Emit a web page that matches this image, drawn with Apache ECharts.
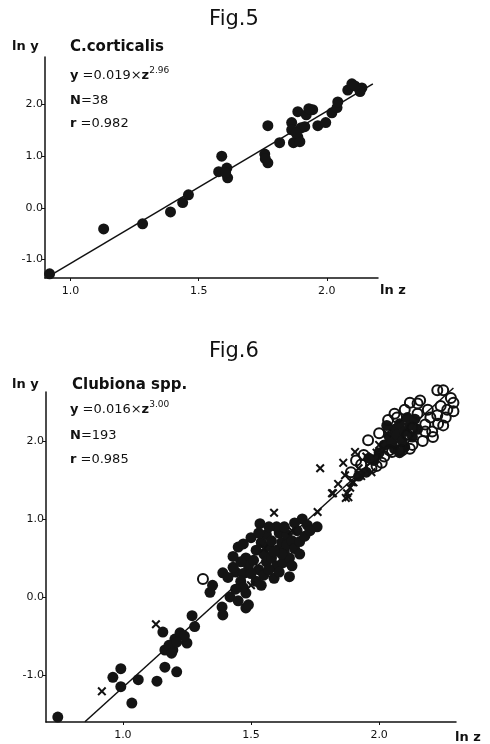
<!DOCTYPE html>
<html>
<head>
<meta charset="utf-8">
<script src="https://cdn.jsdelivr.net/npm/echarts@6/dist/echarts.min.js"></script>
<style>
html,body{margin:0;padding:0;background:#fff;}
#chart{width:490px;height:744px;}
</style>
</head>
<body>
<div id="chart"></div>
<script>
// ---------- Fig.5 : C.corticalis ----------
var fig5Points = [
  [0.918,-1.28],[1.129,-0.41],[1.281,-0.31],[1.39,-0.08],[1.4375,0.10],[1.46,0.25],
  [1.59,1.00],[1.578,0.70],[1.61,0.77],[1.613,0.58],[1.605,0.68],
  [1.77,1.59],[1.758,1.04],[1.77,0.87],[1.816,1.26],[1.863,1.65],[1.863,1.51],
  [1.87,1.26],[1.887,1.86],[1.887,1.37],[1.90,1.55],[1.914,1.57],[1.895,1.28],
  [1.92,1.80],[1.945,1.90],[1.965,1.59],[1.996,1.65],[2.02,1.84],[2.04,1.94],
  [2.043,2.05],[2.082,2.28],[2.098,2.40],[2.137,2.32],[2.13,2.25],[2.11,2.36],
  [1.88,1.45],[1.93,1.92],[1.76,0.95]
];
var fig5Line = [[0.9375,-1.26],[2.18,2.40]];
var fig5XTicks = [1.0, 1.5, 2.0];
var fig5YTicks = [-1.0, 0.0, 1.0, 2.0];

// ---------- Fig.6 : Clubiona spp. ----------
var fig6Filled = [
  [0.746,-1.54],[0.961,-1.03],[0.992,-0.92],[0.992,-1.15],[1.035,-1.36],[1.06,-1.06],
  [1.133,-1.08],[1.156,-0.45],[1.164,-0.68],[1.164,-0.90],[1.195,-0.68],[1.21,-0.96],
  [1.203,-0.54],[1.223,-0.46],[1.25,-0.59],[1.18,-0.62],[1.27,-0.24],
  [1.34,0.06],[1.35,0.15],[1.39,0.31],[1.387,-0.13],[1.39,-0.23],[1.418,0.0],
  [1.44,0.32],[1.45,0.64],[1.48,0.50],[1.48,0.05],[1.48,-0.14],[1.47,0.30],
  [1.46,0.20],[1.43,0.38],[1.47,0.12],[1.49,0.40],[1.50,0.76],[1.45,-0.05],
  [1.49,-0.10],[1.46,0.45],
  [1.51,0.47],[1.535,0.94],[1.52,0.60],[1.53,0.35],[1.54,0.70],[1.55,0.55],
  [1.56,0.45],[1.56,0.80],[1.57,0.65],[1.58,0.50],[1.58,0.72],[1.59,0.24],
  [1.60,0.40],[1.60,0.60],[1.61,0.82],[1.62,0.70],[1.625,0.44],[1.63,0.58],
  [1.64,0.67],[1.64,0.80],[1.65,0.26],[1.65,0.50],[1.66,0.72],[1.67,0.62],
  [1.68,0.85],[1.69,0.71],[1.70,1.00],[1.72,0.92],[1.758,0.90],[1.55,0.28],
  [1.52,0.20],[1.57,0.35],[1.62,0.55],[1.60,0.90],
  [1.53,0.82],[1.57,0.90],[1.59,0.58],[1.61,0.32],[1.63,0.90],[1.66,0.40],
  [1.67,0.95],[1.69,0.55],[1.71,0.78],[1.73,0.85],[1.41,0.25],[1.44,0.10],
  [1.50,0.30],[1.54,0.15],[1.28,-0.38],[1.24,-0.50],[1.21,-0.58],[1.19,-0.72],
  [1.43,0.52],[1.47,0.68],
  [2.02,1.95],[2.04,2.05],[2.05,1.98],[2.06,2.15],[2.07,2.08],[2.08,2.22],
  [2.09,2.00],[2.10,2.12],[2.11,2.30],[2.12,2.20],[2.10,1.92],[2.13,2.05],
  [2.08,1.85],[2.06,1.90],[2.14,2.28],[2.03,2.20],[2.00,1.85],[1.98,1.75],
  [1.95,1.60],[2.15,2.15],[1.92,1.55],[1.96,1.78]
];
var fig6Open = [
  [1.3125,0.23],
  [1.957,2.01],[2.035,2.27],[2.12,2.49],[2.16,2.52],[2.227,2.65],[2.25,2.65],
  [2.29,2.49],[2.266,2.40],[2.227,2.33],[2.18,2.21],[2.207,2.12],[2.13,2.17],
  [2.11,2.08],[2.08,1.88],[2.05,1.86],[2.13,1.95],[1.93,1.70],[1.97,1.65],
  [2.01,1.72],[2.04,1.88],[2.09,1.88],[2.20,2.30],[2.24,2.45],[2.28,2.55],
  [2.19,2.40],[2.15,2.35],[2.17,2.00],[2.21,2.05],[2.23,2.22],[2.26,2.30],
  [2.29,2.38],[1.99,1.68],[2.02,1.80],[2.06,2.35],[2.10,2.40],[2.07,2.30],
  [1.94,1.82],[1.89,1.60],[1.91,1.75],[2.00,2.10],[2.15,2.48],[2.25,2.20],
  [2.18,2.12],[2.12,1.90]
];
var fig6Cross = [
  [0.918,-1.21],[1.129,-0.35],[1.59,1.08],[1.76,1.09],[1.82,1.33],[1.87,1.27],
  [1.887,1.40],[1.90,1.47],[1.97,1.60],[1.77,1.65],[1.86,1.72],[1.906,1.86],
  [1.867,1.56],[1.894,1.47],[1.875,1.33],[1.816,1.33],[1.88,1.28],[1.93,1.55],
  [1.95,1.80],[2.00,1.95],[2.03,2.10],[1.84,1.45],[1.92,1.65],[1.99,1.85],
  [1.66,0.85],[1.50,0.15],[1.55,0.62]
];
var fig6Line = [[0.852,-1.60],[2.29,2.68]];
var fig6XTicks = [1.0, 1.5, 2.0];
var fig6YTicks = [-1.0, 0.0, 1.0, 2.0];

var FONT = 'DejaVu Sans';
var INK = '#111';
var crossPath = 'path://M0,1.6L1.6,0L5,3.4L8.4,0L10,1.6L6.6,5L10,8.4L8.4,10L5,6.6L1.6,10L0,8.4L3.4,5Z';

function xAx(idx, min, max, ticks){
  return {
    type:'value', gridIndex:idx, min:min, max:max,
    axisLine:{show:true, onZero:false, lineStyle:{color:INK, width:1.5}},
    axisTick:{show:true, length:3, customValues:ticks, lineStyle:{color:INK, width:1}},
    axisLabel:{show:true, customValues:ticks, margin:8, color:INK, fontFamily:FONT, fontSize:11,
      formatter:function(v){return v.toFixed(1);}},
    splitLine:{show:false}
  };
}
function yAx(idx, min, max, ticks){
  return {
    type:'value', gridIndex:idx, min:min, max:max,
    axisLine:{show:true, onZero:false, lineStyle:{color:INK, width:1.5}},
    axisTick:{show:true, length:3, customValues:ticks, lineStyle:{color:INK, width:1}},
    axisLabel:{show:true, customValues:ticks, margin:2, color:INK, fontFamily:FONT, fontSize:11,
      formatter:function(v){return v.toFixed(1);}},
    splitLine:{show:false}
  };
}

function richTxt(x, y, text, rich){
  return {type:'text', x:x, y:y, style:{text:text, fill:INK, rich:rich, textVerticalAlign:'middle', font:'13px "'+FONT+'"'}};
}
var eqRich = {
  b:{fontFamily:FONT, fontWeight:'bold', fontSize:13, lineHeight:20, verticalAlign:'middle', color:INK},
  n:{fontFamily:FONT, fontSize:13, lineHeight:20, verticalAlign:'middle', color:INK},
  s:{fontFamily:FONT, fontSize:9, lineHeight:20, verticalAlign:'top', color:INK}
};

var chart = echarts.init(document.getElementById('chart'), null, {renderer:'canvas'});
chart.setOption({
  animation:false,
  backgroundColor:'#fff',
  grid:[
    {left:45, top:57, width:333, height:221},
    {left:46, top:392, width:410, height:330}
  ],
  xAxis:[xAx(0, 0.9, 2.2, fig5XTicks), xAx(1, 0.7, 2.3, fig6XTicks)],
  yAxis:[yAx(0, -1.36, 2.92, fig5YTicks), yAx(1, -1.603, 2.628, fig6YTicks)],
  series:[
    {type:'line', xAxisIndex:0, yAxisIndex:0, data:fig5Line, symbol:'none', clip:false,
      lineStyle:{color:INK, width:1.5}, z:2},
    {type:'scatter', xAxisIndex:0, yAxisIndex:0, data:fig5Points, symbol:'circle', symbolSize:11,
      itemStyle:{color:'#141414', opacity:1}, clip:false, z:3},
    {type:'line', xAxisIndex:1, yAxisIndex:1, data:fig6Line, symbol:'none', clip:false,
      lineStyle:{color:INK, width:1.5}, z:2},
    {type:'scatter', xAxisIndex:1, yAxisIndex:1, data:fig6Filled, symbol:'circle', symbolSize:11,
      itemStyle:{color:'#141414', opacity:1}, clip:false, z:3},
    {type:'scatter', xAxisIndex:1, yAxisIndex:1, data:fig6Open, symbol:'circle', symbolSize:10,
      itemStyle:{color:'rgba(255,255,255,0)', borderColor:'#111', borderWidth:2, opacity:1}, clip:false, z:4},
    {type:'scatter', xAxisIndex:1, yAxisIndex:1, data:fig6Cross, symbol:crossPath, symbolSize:9,
      itemStyle:{color:'#111', opacity:1}, clip:false, z:5}
  ],
  graphic:[
    {type:'text', x:234, y:20, style:{text:'Fig.5', fill:INK, font:'21px "'+FONT+'"', textAlign:'center', textVerticalAlign:'middle'}},
    {type:'text', x:12, y:47, style:{text:'ln y', fill:INK, font:'bold 13px "'+FONT+'"', textVerticalAlign:'middle'}},
    {type:'text', x:70, y:47, style:{text:'C.corticalis', fill:INK, font:'bold 15px "'+FONT+'"', textVerticalAlign:'middle'}},
    richTxt(70, 76, '{b|y}{n| =0.019×}{b|z}{s|2.96}', eqRich),
    richTxt(70, 101, '{b|N}{n|=38}', eqRich),
    richTxt(70, 124, '{b|r}{n| =0.982}', eqRich),
    {type:'text', x:380, y:291, style:{text:'ln z', fill:INK, font:'bold 13px "'+FONT+'"', textVerticalAlign:'middle'}},

    {type:'text', x:234, y:352, style:{text:'Fig.6', fill:INK, font:'21px "'+FONT+'"', textAlign:'center', textVerticalAlign:'middle'}},
    {type:'text', x:12, y:385, style:{text:'ln y', fill:INK, font:'bold 13px "'+FONT+'"', textVerticalAlign:'middle'}},
    {type:'text', x:72, y:385, style:{text:'Clubiona spp.', fill:INK, font:'bold 15px "'+FONT+'"', textVerticalAlign:'middle'}},
    richTxt(70, 410, '{b|y}{n| =0.016×}{b|z}{s|3.00}', eqRich),
    richTxt(70, 436, '{b|N}{n|=193}', eqRich),
    richTxt(70, 460, '{b|r}{n| =0.985}', eqRich),
    {type:'text', x:455, y:738, style:{text:'ln z', fill:INK, font:'bold 13px "'+FONT+'"', textVerticalAlign:'middle'}}
  ]
});
</script>
</body>
</html>
